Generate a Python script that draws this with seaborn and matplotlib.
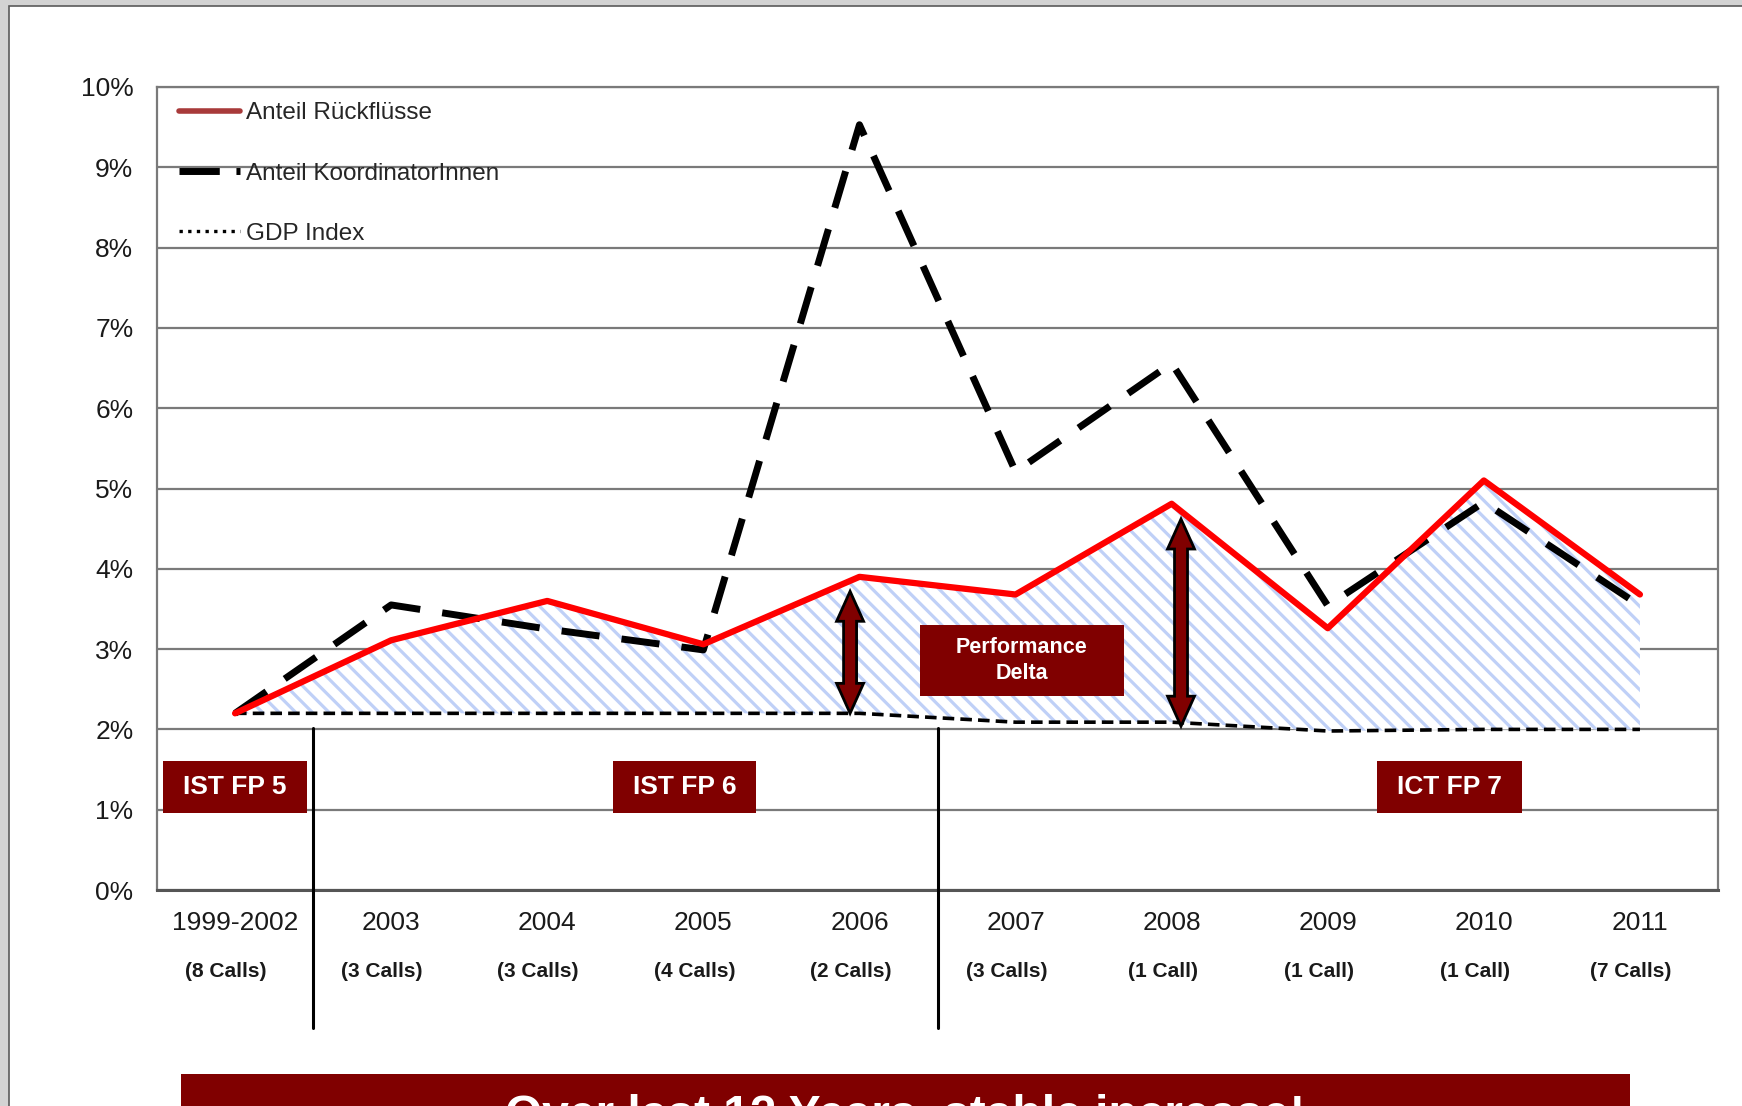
import matplotlib
matplotlib.use("Agg")
import numpy as np
import pandas as pd
import matplotlib.pyplot as plt
import seaborn as sns
from matplotlib.lines import Line2D
from matplotlib.patches import Rectangle, Polygon
from matplotlib.ticker import PercentFormatter
from matplotlib.transforms import IdentityTransform

# Daten
years = ["1999-2002", "2003", "2004", "2005", "2006", "2007", "2008", "2009", "2010", "2011"]
calls = ["(8 Calls)", "(3 Calls)", "(3 Calls)", "(4 Calls)", "(2 Calls)",
         "(3 Calls)", "(1 Call)", "(1 Call)", "(1 Call)", "(7 Calls)"]
anteil_rueckfluesse = [0.0220, 0.0311, 0.0360, 0.0306, 0.0390, 0.0368, 0.0481, 0.0326, 0.0510, 0.0368]
anteil_koordinatoren = [0.0220, 0.0355, 0.0325, 0.0299, 0.0953, 0.0521, 0.0656, 0.0354, 0.0483, 0.0354]
gdp_index = [0.0220, 0.0220, 0.0220, 0.0220, 0.0220, 0.0209, 0.0209, 0.0198, 0.0200, 0.0200]
programmes = ["IST FP 5", "IST FP 6", "ICT FP 7"]

df = pd.DataFrame({"pos": np.arange(len(years)),
                   "rueck": anteil_rueckfluesse,
                   "koord": anteil_koordinatoren,
                   "gdp": gdp_index})

sns.set_style("white")
plt.rcParams['font.family'] = ['Liberation Sans', 'DejaVu Sans']
plt.rcParams['hatch.linewidth'] = 2.3
plt.rcParams['hatch.color'] = '#bfd0f7'

DARKRED = '#800000'
W, H = 1742, 1106

fig = plt.figure(figsize=(W / 100, H / 100), dpi=100)
fig.patch.set_facecolor('#d3d3d3')
fig.add_artist(Rectangle((9 / W, -0.01), 1.0, (H - 6) / H + 0.01, transform=fig.transFigure,
                         facecolor='white', edgecolor='#5a5a5a', lw=1.2, zorder=-5))

ax = fig.add_axes([157 / W, 216 / H, (1718 - 157) / W, (890 - 87) / H])
ax.set_facecolor('white')

# schraffierte Fläche zwischen GDP und Rückflüssen
ax.fill_between(df.pos, df.gdp, df.rueck, facecolor='white', edgecolor='#bfd0f7',
                hatch='\\\\', linewidth=0, zorder=2)

sns.lineplot(data=df, x="pos", y="gdp", ax=ax, color='black', lw=2.6,
             linestyle=(0, (3.2, 1.7)), zorder=3)
sns.lineplot(data=df, x="pos", y="koord", ax=ax, color='black', lw=5,
             linestyle=(0, (5.5, 3.2)), zorder=4)
sns.lineplot(data=df, x="pos", y="rueck", ax=ax, color='#ff0000', lw=4.5, zorder=5)

# Achsen
ax.set_xlim(-0.5, len(years) - 0.5)
ax.set_ylim(0, 0.10)
ax.set_xticks(df.pos)
ax.set_xticklabels(years, fontsize=19, color='#1a1a1a')
ax.set_xticks(np.arange(-0.5, len(years)), minor=True)
ax.tick_params(axis='x', which='major', length=0, pad=15)
ax.tick_params(axis='x', which='minor', length=8, width=1.5, color='#6a6a6a')
ax.set_yticks(np.arange(0, 0.1001, 0.01))
ax.yaxis.set_major_formatter(PercentFormatter(1.0, decimals=0))
ax.tick_params(axis='y', length=7, width=1.5, color='#6a6a6a', pad=10,
               labelsize=19, labelcolor='#1a1a1a')
ax.set_xlabel("")
ax.set_ylabel("")
ax.grid(axis='y', color='#7a7a7a', lw=1.6)
ax.grid(axis='x', visible=False)
ax.set_axisbelow(True)
for s in ax.spines.values():
    s.set_color('#7a7a7a')
    s.set_linewidth(1.6)
ax.spines['bottom'].set_linewidth(2.2)
ax.spines['bottom'].set_color('#555555')

for i, c in enumerate(calls):
    ax.annotate(c, xy=(i, 0), xycoords=ax.get_xaxis_transform(), xytext=(-6.5, -58.5),
                textcoords='offset points', ha='center', va='center',
                fontsize=15, fontweight='bold', color='#1a1a1a')

# Trennlinien der Rahmenprogramme
for xb in [0.5, 4.5]:
    ax.axvline(xb, ymin=-0.172, ymax=0.202, clip_on=False, color='black', lw=2.2, zorder=6)

# Legende
handles = [Line2D([], [], color='#a83a3a', lw=4),
           Line2D([], [], color='black', lw=5, linestyle=(0, (5.8, 2.4, 0.7, 3))),
           Line2D([], [], color='black', lw=2.4, linestyle=(0, (1, 1.6)))]
labels = ["Anteil Rückflüsse", "Anteil KoordinatorInnen", "GDP Index"]
ax.legend(handles, labels, loc='upper left', bbox_to_anchor=(0.0, 1.008), frameon=False,
          fontsize=17.5, handlelength=2.5, labelspacing=1.57, handletextpad=0.25)


def label_box(xc, yc, w, h, text, fs, ls=1.25):
    ax.add_patch(Rectangle((xc - w / 2, yc - h / 2), w, h, facecolor=DARKRED,
                           edgecolor='none', zorder=7))
    ax.text(xc, yc, text, ha='center', va='center', color='white', fontsize=fs,
            fontweight='bold', zorder=8, linespacing=ls)


label_box(0.0, 0.01285, 0.92, 0.0065, programmes[0], 19)
label_box(2.88, 0.01285, 0.92, 0.0065, programmes[1], 19)
label_box(7.78, 0.01285, 0.935, 0.0065, programmes[2], 19)
label_box(5.04, 0.0286, 1.31, 0.0088, "Performance\nDelta", 15.5, ls=1.3)


# Doppelpfeile (Performance Delta)
def double_arrow(x, y0, y1, hw=13.5, sw=6.5, hl=30):
    (px, bot), (_, top) = ax.transData.transform([(x, y0), (x, y1)])
    verts = [(px, top), (px + hw, top - hl), (px + sw, top - hl), (px + sw, bot + hl),
             (px + hw, bot + hl), (px, bot), (px - hw, bot + hl), (px - sw, bot + hl),
             (px - sw, top - hl), (px - hw, top - hl)]
    fig.add_artist(Polygon(verts, closed=True, facecolor=DARKRED, edgecolor='black',
                           lw=2, transform=IdentityTransform(), zorder=9))


double_arrow(3.94, gdp_index[4], anteil_rueckfluesse[4] - 0.0018)
double_arrow(6.06, gdp_index[6] - 0.0005, anteil_rueckfluesse[6] - 0.0019)

# Banner unten
fig.add_artist(Rectangle((181 / W, -0.01), (1630 - 181) / W, 32 / H + 0.01,
                         transform=fig.transFigure, facecolor=DARKRED, lw=0, zorder=10))
fig.text(905 / W, 1 - 1093 / H, "Over last 12 Years, stable increase!", color='white',
         fontsize=34.5, fontweight='bold', ha='center', va='top', zorder=11)

fig.savefig("out.png", dpi=100)
